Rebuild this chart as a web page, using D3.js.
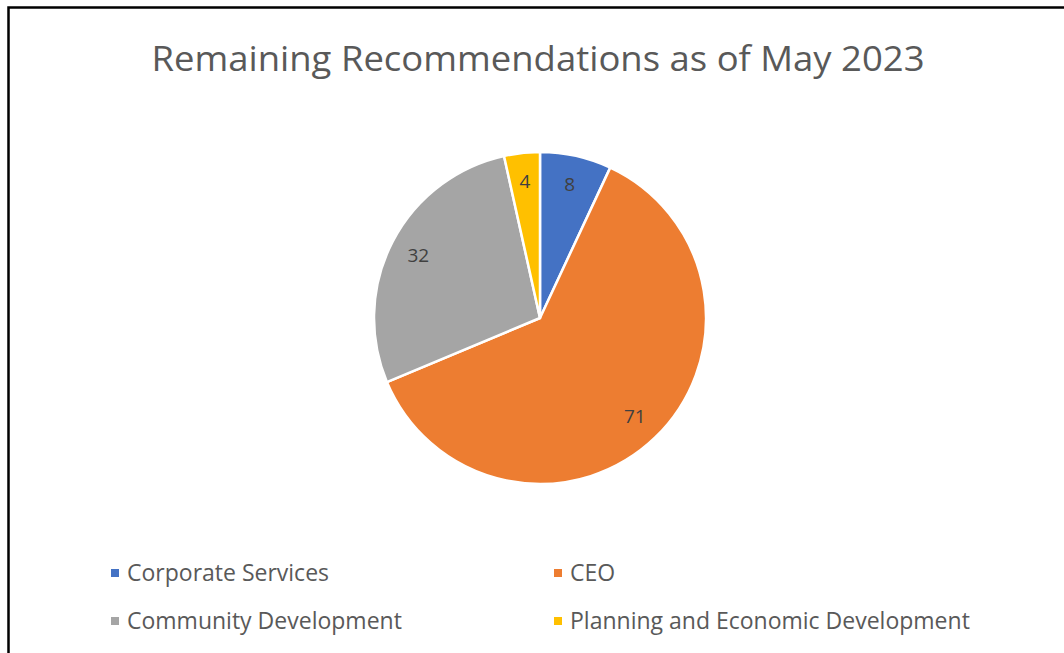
<!DOCTYPE html>
<html>
<head>
<meta charset="utf-8">
<script src="https://cdn.jsdelivr.net/npm/d3@7"></script>
<style>
  body { margin: 0; background: #fff; }
  text { font-family: "Open Sans", "Noto Sans", sans-serif; }
</style>
</head>
<body>
<div id="chart"></div>
<script>
const categories = ["Corporate Services", "CEO", "Community Development", "Planning and Economic Development"];
const values = [8, 71, 32, 4];
const colors = ["#4472C4", "#ED7D31", "#A5A5A5", "#FFC000"];

const width = 1064, height = 653;
const cx = 540, cy = 318, radius = 166;

const svg = d3.select("#chart").append("svg")
    .attr("width", width)
    .attr("height", height);

// frame (right and bottom edges fall outside the picture)
svg.append("rect")
    .attr("x", 8.5).attr("y", 7.5)
    .attr("width", width + 10).attr("height", height + 10)
    .attr("fill", "#fff")
    .attr("stroke", "#000")
    .attr("stroke-width", 2.5);

svg.append("text")
    .attr("x", 538).attr("y", 71)
    .attr("text-anchor", "middle")
    .attr("font-size", 34)
    .attr("textLength", 773)
    .attr("lengthAdjust", "spacingAndGlyphs")
    .attr("fill", "#595959")
    .text("Remaining Recommendations as of May 2023");

const pie = d3.pie().sort(null).value(d => d.value);
const slices = pie(categories.map((c, i) => ({ name: c, value: values[i], color: colors[i] })));

const arc = d3.arc().innerRadius(0).outerRadius(radius);
const labelArc = d3.arc().innerRadius(137).outerRadius(137);

const g = svg.append("g").attr("transform", `translate(${cx},${cy})`);

g.selectAll("path")
    .data(slices)
    .enter().append("path")
    .attr("d", arc)
    .attr("fill", d => d.data.color)
    .attr("stroke", "#fff")
    .attr("stroke-width", 2.5)
    .attr("stroke-linejoin", "round");

g.selectAll(".label")
    .data(slices)
    .enter().append("text")
    .attr("class", "label")
    .attr("transform", d => `translate(${labelArc.centroid(d)})`)
    .attr("text-anchor", "middle")
    .attr("dy", "0.35em")
    .attr("font-size", 19)
    .attr("fill", "#404040")
    .text(d => d.data.value);

// legend, two columns
const legend = svg.append("g")
    .selectAll(".legend")
    .data(slices)
    .enter().append("g")
    .attr("class", "legend")
    .attr("transform", (d, i) => `translate(${i % 2 === 0 ? 111 : 554},${i < 2 ? 573 : 621})`);

legend.append("rect")
    .attr("x", 0).attr("y", -4)
    .attr("width", 8).attr("height", 8)
    .attr("fill", d => d.data.color);

legend.append("text")
    .attr("x", 16)
    .attr("dy", "0.35em")
    .attr("font-size", 23)
    .attr("fill", "#595959")
    .text(d => d.data.name);
</script>
</body>
</html>
